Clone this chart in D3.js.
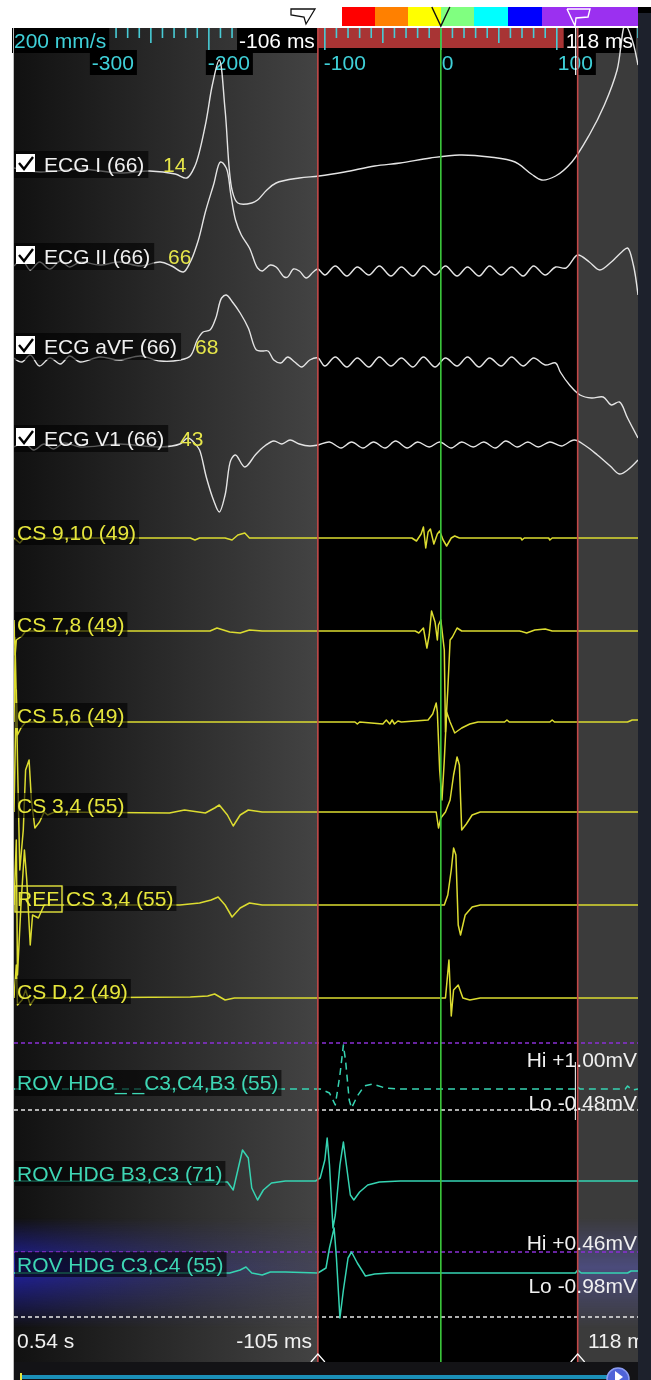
<!DOCTYPE html>
<html>
<head>
<meta charset="utf-8">
<script src="https://cdn.jsdelivr.net/npm/d3@7"></script>
<style>
body { margin: 0; background: #fff; }
text { font-family: "Liberation Sans", Arial, sans-serif; white-space: pre; }
</style>
</head>
<body>
<div id="ep_canvas"></div>
<script>
// time in ms relative to the green reference line, amplitude in display units
const ecgI = [[-368,0.2],[-346,-0.2],[-311,0.1],[-277,-0.3],[-251,-0.1],[-229,-0.4],[-219,-0.8],[-212,0.4],[-203,4.5],[-197,8.5],[-191,11],[-186,6],[-180,-2],[-175,-3.3],[-163,-3.3],[-158,-3],[-150,-2],[-142,-1.3],[-122,-0.8],[-105,-0.6],[-83,-0.2],[-57,0.4],[-35,0.7],[-9,1.2],[16,1.5],[42,1.3],[64,0.8],[78,-0.4],[87,-1.0],[99,-0.6],[113,0.8],[128,3.5],[141,6.5],[152,10],[159,14.5],[165,13],[170,10.5]];
const ecgII = [[-368,-0.4],[-361,0.2],[-354,-0.8],[-346,0],[-337,-0.7],[-328,0.1],[-320,-0.5],[-311,0],[-294,-0.3],[-277,0],[-259,-0.4],[-242,0],[-232,-0.4],[-222,-1.0],[-216,0],[-209,2.2],[-203,5],[-196,7.7],[-190,10],[-185,9.4],[-181,6.7],[-177,4.2],[-172,2.7],[-165,1.4],[-158,-0.6],[-154,-0.9],[-147,-0.3],[-142,-0.5],[-135,-1.5],[-132,-1.5],[-127,-0.7],[-122,-0.9],[-116,-1.6],[-110,-1.0],[-106,-0.7],[-100,-1.3],[-91,-0.4],[-81,-1.4],[-72,-0.5],[-62,-1.3],[-53,-0.4],[-43,-1.4],[-34,-0.5],[-24,-1.4],[-15,-0.4],[-5,-1.3],[4,-0.4],[14,-1.4],[23,-0.5],[33,-1.4],[42,-0.4],[52,-1.3],[61,-0.5],[71,-1.4],[80,-0.4],[90,-1.3],[99,-0.5],[108,-0.6],[118,0.7],[128,0],[137,-0.8],[147,0],[156,1.0],[161,1.4],[166,-0.3],[170,-3.3]];
const ecgAVF = [[-368,-0.1],[-361,-0.5],[-354,0.2],[-346,-0.9],[-337,-0.1],[-328,-0.7],[-320,0.1],[-311,-0.5],[-294,0],[-277,-0.3],[-259,0.1],[-242,-0.4],[-225,-0.3],[-216,0.1],[-210,1.7],[-205,2.5],[-199,2.7],[-194,3.9],[-189,5.9],[-185,6.2],[-179,5.4],[-173,4.4],[-166,2.9],[-159,0.7],[-154,0.6],[-149,0.6],[-144,-0.3],[-138,-0.6],[-132,0],[-126,-0.5],[-120,-1.0],[-113,-0.3],[-106,-0.1],[-100,-0.9],[-91,0],[-81,-1.0],[-72,-0.1],[-62,-1.0],[-53,0],[-43,-0.9],[-34,-0.1],[-24,-1.0],[-15,0],[-5,-1.0],[4,-0.1],[14,-0.9],[23,0],[33,-1.0],[42,-0.1],[52,-0.9],[61,0],[71,-0.9],[80,-0.1],[90,-0.8],[99,-0.6],[103,-1.5],[111,-2.8],[120,-3.8],[130,-4.1],[140,-4.0],[147,-4.8],[154,-4.5],[161,-6.1],[170,-8.1]];
const ecgV1 = [[-368,-0.1],[-359,0.3],[-351,-0.4],[-342,0.2],[-334,-0.3],[-325,0.3],[-311,-0.1],[-277,0.2],[-242,-0.1],[-225,0.2],[-218,0.8],[-211,0.1],[-208,-0.4],[-202,-3.2],[-196,-5.4],[-191,-6.6],[-186,-4.9],[-181,-1.4],[-177,-0.9],[-169,-2.1],[-160,-0.9],[-153,-0.1],[-144,0.5],[-137,0.2],[-130,0.6],[-122,0.2],[-113,0],[-106,0.1],[-96,0.4],[-86,-0.2],[-77,0.4],[-67,-0.2],[-58,0.4],[-48,-0.2],[-39,0.5],[-29,-0.2],[-20,0.4],[-10,-0.1],[-1,0.4],[9,-0.2],[18,0.4],[28,-0.1],[37,0.4],[47,-0.2],[56,0.5],[66,-0.1],[75,0.4],[84,-0.1],[94,0.4],[104,0],[115,0.6],[125,0],[135,-0.9],[146,-2],[154,-2.8],[161,-2.4],[170,-1.4]];

const cs910 = [[-368,0],[-363,-0.5],[-359,0],[-216,0],[-212,-0.2],[-208,0],[-186,0],[-180,-0.2],[-175,0.3],[-169,0.5],[-165,0],[-25,0],[-21,-0.3],[-17,0.4],[-15,1.1],[-13,-1.0],[-11,0.6],[-9,0.9],[-6,-0.6],[-3,0.4],[-1,0.7],[2,-0.2],[5,-0.8],[9,0],[12,0.2],[16,0],[69,0],[70,-0.2],[72,0],[93,0],[94,-0.2],[96,0],[170,0]];
const cs78 = [[-368,1.1],[-367,-2.4],[-366,-0.9],[-361,-0.5],[-358,0],[-199,0],[-193,0.3],[-182,-0.1],[-173,-0.2],[-165,0.1],[-154,0],[-22,0],[-19,-0.2],[-15,0.3],[-12,-1.7],[-10,-0.4],[-8,2.0],[-5,0.9],[-3,-0.9],[-2,0.6],[0,1.1],[3,-1.9],[4,-10.1],[6,-5.9],[8,-0.9],[10,-0.6],[14,0.3],[18,0],[68,0],[74,-0.2],[81,0.1],[90,0.2],[96,0],[170,0]];
const cs56 = [[-368,0],[-367,7.4],[-366,2.2],[-365,-1.3],[-362,-0.6],[-358,0],[-74,0],[-72,-0.2],[-70,0],[-50,-0.2],[-47,0.2],[-44,-0.2],[-42,0.2],[-40,-0.2],[-37,0.1],[-34,0],[-11,0.2],[-7,0.8],[-4,1.9],[-3,1.0],[-1,-4.8],[1,-7.8],[3,-3.8],[5,1.0],[8,0],[12,-1.1],[18,-0.6],[25,-0.2],[32,0],[55,0],[57,0.2],[59,0],[94,0],[96,0.2],[98,0],[161,0],[165,0.2],[170,0.2]];
const cs34 = [[-368,0],[-366,12.2],[-365,5.2],[-363,-5.8],[-360,-1.8],[-358,4.2],[-355,5.2],[-353,1.2],[-350,-1.6],[-346,-1.0],[-342,0],[-339,-0.3],[-333,0],[-234,-0.1],[-221,0.2],[-203,-0.1],[-195,0.4],[-191,0.7],[-184,-0.3],[-179,-1.4],[-173,-0.3],[-166,0.2],[-160,0.1],[-154,0],[-4,0],[-2,-1.6],[0,-0.6],[4,0],[8,1.2],[11,3.7],[14,5.5],[16,4.7],[18,-1.8],[22,-1.2],[27,-0.3],[34,0],[170,0]];
const refCs34 = [[-368,0],[-366,6.5],[-365,-7],[-362,0],[-359,5.5],[-357,2.5],[-354,-4],[-352,-1],[-347,-1.3],[-342,0],[-225,0],[-208,0.2],[-198,0.5],[-192,0.8],[-186,0],[-180,-1.2],[-173,-0.3],[-165,0.2],[-154,0],[3,0],[6,1.0],[9,3.5],[11,5.7],[13,5.0],[15,-2.0],[17,-3.0],[21,-1.0],[27,-0.2],[34,0],[170,0]];
const csD2 = [[-368,0],[-366,3.3],[-365,-0.7],[-361,-0.2],[-358,0.8],[-354,-0.7],[-350,0],[-216,0.1],[-201,0.2],[-195,0.4],[-186,-0.2],[-178,0],[4,0],[7,3.8],[9,-1.8],[11,0.8],[15,1.3],[19,0],[25,-0.2],[34,0],[170,0]];

const rovC3C4B3 = [[-368,0],[-104,0],[-96,-0.4],[-91,-1.6],[-87,1.4],[-84,4.4],[-82,2.7],[-79,-1.1],[-77,-1.9],[-72,-0.7],[-66,0.3],[-59,0.5],[-48,0.1],[-35,0],[116,0],[117,0.3],[120,0],[159,0],[161,0.3],[165,-0.1],[170,0]];
const rovB3C3 = [[-368,0],[-184,-0.1],[-179,-0.9],[-175,1.1],[-171,3.1],[-166,2.3],[-163,-0.7],[-158,-1.9],[-153,-0.9],[-146,-0.2],[-134,0],[-108,0],[-104,0.3],[-100,2.1],[-98,4.3],[-96,1.6],[-93,-4.7],[-91,-3.4],[-87,1.6],[-84,3.9],[-82,2.1],[-78,-1.4],[-75,-1.9],[-70,-1.1],[-63,-0.4],[-53,-0.1],[-35,0],[170,0]];
const rovC3C4 = [[-368,0],[-182,0],[-173,0.3],[-168,0.6],[-163,0],[-154,-0.2],[-147,0.1],[-134,0.1],[-106,0],[-99,0.5],[-96,2.5],[-92,4.5],[-90,1.5],[-87,-4.5],[-84,-1.7],[-80,1.5],[-77,2.1],[-72,1.0],[-65,-0.3],[-57,-0.1],[-44,0],[116,0],[118,0.3],[121,0],[161,0],[164,0.2],[170,0.2]];

const ecgNames = ['ECG I (66)', 'ECG II (66)', 'ECG aVF (66)', 'ECG V1 (66)'];
const ecgNumbers = ['14', '66', '68', '43'];
const csNames = ['CS 9,10 (49)', 'CS 7,8 (49)', 'CS 5,6 (49)', 'CS 3,4 (55)', 'CS 3,4 (55)', 'CS D,2 (49)'];
const rovNames = ['ROV HDG_ _C3,C4,B3 (55)', 'ROV HDG B3,C3 (71)', 'ROV HDG C3,C4 (55)'];
const rulerTicks = [-300, -200, -100, 0, 100];
const cursorTimes = [-106, 118];
const cursorLabels = ['-106 ms', '118 ms'];
const bottomLabels = ['0.54 s', '-105 ms', '118 m'];
const hiLoLabels = ['Hi +1.00mV', 'Lo -0.48mV', 'Hi +0.46mV', 'Lo -0.98mV'];
const speedLabel = '200 mm/s';
const colorBar = ['#ff0000', '#ff8000', '#ffff00', '#80ff80', '#00ffff', '#0000ff', '#9b30f0'];

const width = 651;
const height = 1380;
const plotLeft = 14, plotRight = 638, plotTop = 28, plotBottom = 1362;

const xScale = d3.scaleLinear().domain([-368, 170]).range([plotLeft, plotRight]);

const ecgColor = '#e4e4e4', csColor = '#dcdc30', rovColor = '#36d4b2';
const channels = [
  {data: ecgI, base: 170, color: ecgColor, smooth: true},
  {data: ecgII, base: 262, color: ecgColor, smooth: true},
  {data: ecgAVF, base: 357, color: ecgColor, smooth: true},
  {data: ecgV1, base: 446, color: ecgColor, smooth: true},
  {data: cs910, base: 538, color: csColor},
  {data: cs78, base: 631, color: csColor},
  {data: cs56, base: 722, color: csColor},
  {data: cs34, base: 812, color: csColor},
  {data: refCs34, base: 905, color: csColor},
  {data: csD2, base: 998, color: csColor},
  {data: rovC3C4B3, base: 1089, color: rovColor, dash: '7 5'},
  {data: rovB3C3, base: 1181, color: rovColor},
  {data: rovC3C4, base: 1273, color: rovColor}
];

const svg = d3.select('#ep_canvas').append('svg')
  .attr('width', width).attr('height', height)
  .style('display', 'block');
const defs = svg.append('defs');

const leftGrad = defs.append('linearGradient').attr('id', 'leftShade')
  .attr('x1', 0).attr('x2', 1).attr('y1', 0).attr('y2', 0);
leftGrad.append('stop').attr('offset', 0).attr('stop-color', '#111111');
leftGrad.append('stop').attr('offset', 1).attr('stop-color', '#434343');

const blueGrad = defs.append('linearGradient').attr('id', 'blueGlow')
  .attr('x1', 0).attr('x2', 1).attr('y1', 0).attr('y2', 0);
blueGrad.append('stop').attr('offset', 0).attr('stop-color', '#2424c0').attr('stop-opacity', 0.85);
blueGrad.append('stop').attr('offset', 0.6).attr('stop-color', '#3a3aa8').attr('stop-opacity', 0.4);
blueGrad.append('stop').attr('offset', 1).attr('stop-color', '#4a4a90').attr('stop-opacity', 0.25);

const vFade = defs.append('linearGradient').attr('id', 'vFade')
  .attr('x1', 0).attr('x2', 0).attr('y1', 0).attr('y2', 1);
vFade.append('stop').attr('offset', 0).attr('stop-color', '#fff').attr('stop-opacity', 0);
vFade.append('stop').attr('offset', 0.45).attr('stop-color', '#fff').attr('stop-opacity', 1);
vFade.append('stop').attr('offset', 1).attr('stop-color', '#fff').attr('stop-opacity', 0);
const mask = defs.append('mask').attr('id', 'glowMask');
mask.append('rect').attr('x', 0).attr('y', 1218).attr('width', width).attr('height', 110)
  .attr('fill', 'url(#vFade)');

defs.append('clipPath').attr('id', 'plotClip').append('rect')
  .attr('x', plotLeft).attr('y', plotTop).attr('width', plotRight - plotLeft).attr('height', plotBottom - plotTop);

// backgrounds
svg.append('rect').attr('width', width).attr('height', height).attr('fill', '#ffffff');
svg.append('rect').attr('x', plotLeft).attr('y', plotTop)
  .attr('width', xScale(cursorTimes[0]) - plotLeft).attr('height', plotBottom - plotTop)
  .attr('fill', 'url(#leftShade)');
svg.append('rect').attr('x', xScale(cursorTimes[0])).attr('y', plotTop)
  .attr('width', xScale(cursorTimes[1]) - xScale(cursorTimes[0])).attr('height', plotBottom - plotTop)
  .attr('fill', '#000');
svg.append('rect').attr('x', xScale(cursorTimes[1])).attr('y', plotTop)
  .attr('width', plotRight - xScale(cursorTimes[1])).attr('height', plotBottom - plotTop)
  .attr('fill', '#3b3b3b');

const glow = svg.append('g').attr('mask', 'url(#glowMask)');
glow.append('rect').attr('x', plotLeft).attr('y', 1218)
  .attr('width', xScale(cursorTimes[0]) - plotLeft).attr('height', 110).attr('fill', 'url(#blueGlow)');
glow.append('rect').attr('x', xScale(cursorTimes[1])).attr('y', 1218)
  .attr('width', plotRight - xScale(cursorTimes[1])).attr('height', 110)
  .attr('fill', '#5a5ab0').attr('opacity', 0.55);

// ruler
svg.append('rect').attr('x', xScale(cursorTimes[0])).attr('y', plotTop)
  .attr('width', xScale(cursorTimes[1]) - xScale(cursorTimes[0])).attr('height', 20)
  .attr('fill', '#a83434');
const tickG = svg.append('g').attr('stroke', '#48ccd6').attr('stroke-width', 1.6);
d3.range(-360, 171, 10).forEach(t => {
  const len = t % 100 === 0 ? 27 : (t % 50 === 0 ? 15 : 10);
  tickG.append('line').attr('x1', xScale(t)).attr('x2', xScale(t))
    .attr('y1', plotTop).attr('y2', plotTop + len);
});

function boxedText(g, str, x, y, color, opts = {}) {
  const t = g.append('text').attr('x', x).attr('y', y)
    .attr('font-size', opts.size || 21).attr('fill', color)
    .attr('text-anchor', opts.anchor || 'start').text(str);
  if (opts.box) {
    const b = t.node().getBBox();
    g.insert('rect', () => t.node())
      .attr('x', b.x - (opts.padL || 2)).attr('y', b.y - 1)
      .attr('width', b.width + (opts.padL || 2) + 3).attr('height', b.height + 2)
      .attr('fill', opts.box);
  }
  return t;
}

const rulerG = svg.append('g');
boxedText(rulerG, speedLabel, plotLeft, 48, '#3fd0d8', {box: '#000', padL: 0});
boxedText(rulerG, cursorLabels[0], xScale(cursorTimes[0]) - 3, 48, '#ffffff', {box: '#000', anchor: 'end'});
boxedText(rulerG, cursorLabels[1], xScale(cursorTimes[1]) - 12, 48, '#ffffff', {box: '#000'});
rulerTicks.forEach(t => {
  boxedText(rulerG, String(t), xScale(t) + (t < 0 ? -1 : 1), 70, '#3fd0d8', {box: '#000'});
});

// dashed separators
const sepG = svg.append('g').attr('stroke-width', 1.4).attr('stroke-dasharray', '4 3');
[[1043, '#8a2fd6'], [1110, '#e8e8e8'], [1252, '#8a2fd6'], [1317, '#e8e8e8']].forEach(([y, c]) => {
  sepG.append('line').attr('x1', plotLeft).attr('x2', plotRight)
    .attr('y1', y).attr('y2', y).attr('stroke', c);
});

// traces
const traceG = svg.append('g').attr('clip-path', 'url(#plotClip)');
channels.forEach(ch => {
  const y = d3.scaleLinear().domain([-1, 1]).range([ch.base + 10, ch.base - 10]);
  const line = d3.line().x(d => xScale(d[0])).y(d => y(d[1]))
    .curve(ch.smooth ? d3.curveCatmullRom.alpha(0.5) : d3.curveLinear);
  traceG.append('path').datum(ch.data).attr('d', line)
    .attr('fill', 'none').attr('stroke', ch.color)
    .attr('stroke-width', ch.smooth ? 1.4 : 1.5).attr('stroke-linejoin', 'round')
    .attr('stroke-dasharray', ch.dash || null);
});

// cursor lines
const curG = svg.append('g');
cursorTimes.forEach(t => {
  curG.append('line').attr('x1', xScale(t)).attr('x2', xScale(t))
    .attr('y1', plotTop).attr('y2', plotBottom)
    .attr('stroke', '#c24848').attr('stroke-width', 1.6);
});
curG.append('line').attr('x1', xScale(0)).attr('x2', xScale(0))
  .attr('y1', plotTop).attr('y2', plotBottom)
  .attr('stroke', '#3cc83c').attr('stroke-width', 1.6);
curG.append('line').attr('x1', xScale(cursorTimes[1]) - 2).attr('x2', xScale(cursorTimes[1]) - 2)
  .attr('y1', 26).attr('y2', 75).attr('stroke', '#ffffff').attr('stroke-width', 1.2);
curG.append('line').attr('x1', xScale(116)).attr('x2', xScale(116))
  .attr('y1', 1062).attr('y2', 1120).attr('stroke', '#ffffff').attr('stroke-width', 1);

// channel labels
const labelG = svg.append('g');
const labelBg = 'rgba(0,0,0,0.6)';
const ecgLabelY = [172, 264, 354, 446];
const ecgNumX = [163, 168, 195, 180];
ecgNames.forEach((name, i) => {
  const y = ecgLabelY[i];
  const t = labelG.append('text').attr('x', 44).attr('y', y).attr('font-size', 21)
    .attr('fill', '#f0f0f0').text(name);
  const b = t.node().getBBox();
  labelG.insert('rect', () => t.node()).attr('x', plotLeft).attr('y', b.y - 2)
    .attr('width', b.x + b.width + 4 - plotLeft).attr('height', b.height + 4).attr('fill', labelBg);
  labelG.append('rect').attr('x', 16).attr('y', y - 18).attr('width', 19).attr('height', 18)
    .attr('fill', '#ffffff');
  labelG.append('path').attr('d', `M19,${y - 9} L24,${y - 3} L33,${y - 15}`)
    .attr('fill', 'none').attr('stroke', '#000').attr('stroke-width', 2.4);
  labelG.append('text').attr('x', ecgNumX[i]).attr('y', y).attr('font-size', 21)
    .attr('fill', '#e6e64a').text(ecgNumbers[i]);
});

const csLabelY = [540, 632, 723, 813, 906, 999];
csNames.forEach((name, i) => {
  const x = i === 4 ? 66 : 17;
  boxedText(labelG, name, x, csLabelY[i], '#e6e63c', {box: labelBg});
});
const refT = labelG.append('text').attr('x', 17).attr('y', 906).attr('font-size', 21)
  .attr('fill', '#e6e63c').text('REF');
const rb = refT.node().getBBox();
labelG.append('rect').attr('x', 15).attr('y', rb.y - 1).attr('width', 47).attr('height', rb.height + 3)
  .attr('fill', 'none').attr('stroke', '#e6e63c').attr('stroke-width', 1.4);

const rovLabelY = [1090, 1181, 1272];
rovNames.forEach((name, i) => {
  boxedText(labelG, name, 17, rovLabelY[i], '#3ed6b4', {box: labelBg});
});

// Hi / Lo limits
const hlY = [1067, 1110, 1250, 1293];
hiLoLabels.forEach((s, i) => {
  labelG.append('text').attr('x', 637).attr('y', hlY[i]).attr('text-anchor', 'end')
    .attr('font-size', 21).attr('fill', '#f0f0f0').text(s);
});

// bottom labels
labelG.append('text').attr('x', 17).attr('y', 1348).attr('font-size', 21).attr('fill', '#f0f0f0').text(bottomLabels[0]);
labelG.append('text').attr('x', 312).attr('y', 1348).attr('font-size', 21).attr('text-anchor', 'end')
  .attr('fill', '#f0f0f0').text(bottomLabels[1]);
labelG.append('text').attr('x', 588).attr('y', 1348).attr('font-size', 21).attr('fill', '#f0f0f0').text(bottomLabels[2]);
cursorTimes.forEach(t => {
  labelG.append('path').attr('d', `M${xScale(t) - 7},${1362} L${xScale(t)},${1354} L${xScale(t) + 7},${1362}`)
    .attr('fill', 'none').attr('stroke', '#ffffff').attr('stroke-width', 1.2);
});

// bottom scroll bar
svg.append('rect').attr('x', plotLeft).attr('y', plotBottom).attr('width', plotRight - plotLeft)
  .attr('height', height - plotBottom).attr('fill', '#131316');
svg.append('rect').attr('x', 20).attr('y', 1375).attr('width', 590).attr('height', 4).attr('fill', '#1b90b8');
svg.append('rect').attr('x', 20).attr('y', 1373).attr('width', 2).attr('height', 7).attr('fill', '#e6e63c');
svg.append('circle').attr('cx', 618).attr('cy', 1379).attr('r', 11).attr('fill', '#4f63d8')
  .attr('stroke', '#8c9cf0').attr('stroke-width', 1.5);
svg.append('path').attr('d', 'M615,1371 L623,1377 L615,1383 Z').attr('fill', '#ffffff');

// top colour bar and markers
const barX = [342, 375, 408, 441, 474, 508, 542, 638];
colorBar.forEach((c, i) => {
  svg.append('rect').attr('x', barX[i]).attr('y', 7).attr('width', barX[i + 1] - barX[i])
    .attr('height', 19).attr('fill', c);
});
svg.append('path').attr('d', 'M291,9 L315,9 L306,24 L304,17 L291,15 Z')
  .attr('fill', '#ffffff').attr('stroke', '#111').attr('stroke-width', 1.3);
svg.append('path').attr('d', `M${xScale(0) - 9},7 L${xScale(0)},26 L${xScale(0) + 9},7`)
  .attr('fill', 'none').attr('stroke', '#111').attr('stroke-width', 1.4);
svg.append('path').attr('d', 'M567,9 L590,9 L588,17 L576,18 L575,26 L567,9')
  .attr('fill', 'none').attr('stroke', '#ffffff').attr('stroke-width', 1.4);

// right scroll strip and left border
svg.append('rect').attr('x', plotRight).attr('y', 7).attr('width', width - plotRight).attr('height', height - 7)
  .attr('fill', '#1d212c');
svg.append('rect').attr('x', plotRight).attr('y', 7).attr('width', width - plotRight).attr('height', 6)
  .attr('fill', '#000');
svg.append('line').attr('x1', 13.5).attr('x2', 13.5).attr('y1', plotTop).attr('y2', height)
  .attr('stroke', '#bdbdbd').attr('stroke-width', 1);
</script>
</body>
</html>
